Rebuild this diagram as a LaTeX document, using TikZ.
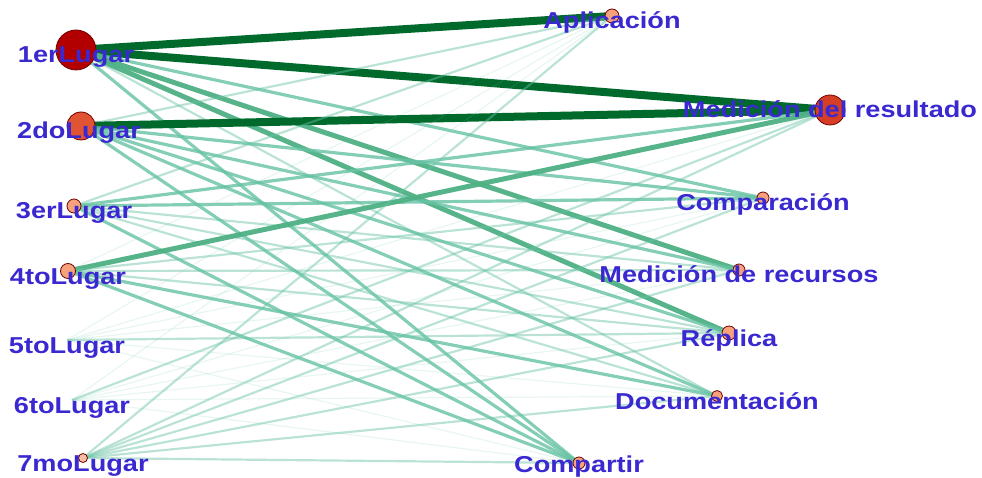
\documentclass[tikz,border=0pt]{standalone}
\usepackage{fontspec}
\setsansfont{Liberation Sans}[FakeStretch=1.18]
\usetikzlibrary{backgrounds}

\definecolor{tagblue}{RGB}{58,40,208}
\definecolor{darkedge}{RGB}{0,106,44}
\definecolor{midedge}{RGB}{78,176,132}
\definecolor{lightedge}{RGB}{102,194,164}
\definecolor{bigred}{RGB}{178,0,0}
\definecolor{midred}{RGB}{224,84,52}
\definecolor{hotred}{RGB}{214,62,38}
\definecolor{salmon}{RGB}{246,162,124}

\begin{document}
\begin{tikzpicture}[x=1pt, y=-1pt,
    place/.style={circle, draw=black!55!red, line width=0.8pt, inner sep=0pt, fill=salmon, minimum size=14pt},
    tag/.style={font=\sffamily\bfseries\fontsize{23}{23}\selectfont, text=tagblue, anchor=base, inner sep=0pt, yshift=-13pt},
    e0/.style={lightedge, line width=1.2pt, opacity=0.15},
    e1/.style={lightedge, line width=2.2pt, opacity=0.45},
    e2/.style={lightedge, line width=3.2pt, opacity=0.8},
    e3/.style={midedge, line width=5pt, opacity=0.95},
    e4/.style={darkedge, line width=8pt}]
    \useasboundingbox (0,0) rectangle (982,478);

    % Left column: places
    \node[place, fill=bigred, minimum size=40pt] (l1) at (76,50) {};
    \node[place, fill=midred, minimum size=28pt] (l2) at (81,126) {};
    \node[place] (l3) at (74,206) {};
    \node[place, minimum size=15pt] (l4) at (68,271) {};
    \coordinate (l5) at (67,340);
    \coordinate (l6) at (72,400);
    \node[place, fill=salmon!70, minimum size=9pt] (l7) at (83,458) {};

    % Right column: activities
    \node[place] (r1) at (612,16) {};
    \node[place, fill=hotred, minimum size=30pt] (r2) at (830,110) {};
    \node[place, minimum size=12pt] (r3) at (763,198) {};
    \node[place, minimum size=12pt] (r4) at (739,270) {};
    \node[place] (r5) at (729,333) {};
    \node[place, minimum size=11pt] (r6) at (717,396) {};
    \node[place, minimum size=12pt] (r7) at (579,463) {};

    % Links (left/right/weight)
    \begin{scope}[on background layer]
        \foreach \a/\b/\w in {
            1/1/4, 1/2/4, 1/3/2, 1/4/3, 1/5/3, 1/6/1, 1/7/2,
            2/1/1, 2/2/4, 2/3/2, 2/4/2, 2/5/2, 2/6/2, 2/7/2,
            3/1/1, 3/2/2, 3/3/2, 3/4/1, 3/5/1, 3/6/1, 3/7/2,
            4/1/0, 4/2/3, 4/3/1, 4/4/1, 4/5/1, 4/6/2, 4/7/2,
            5/1/0, 5/2/0, 5/3/0, 5/4/0, 5/5/1, 5/6/0, 5/7/0,
            6/1/0, 6/2/1, 6/3/0, 6/4/0, 6/5/0, 6/6/0, 6/7/0,
            7/1/1, 7/2/1, 7/3/1, 7/4/1, 7/5/1, 7/6/1, 7/7/1}
            \draw[e\w] (l\a.center) -- (r\b.center);
    \end{scope}

    % Labels
    \node[tag] (t1) at (l1) {1erLugar};
    \node[tag] (t2) at (79,126) {2doLugar};
    \node[tag] (t3) at (l3) {3erLugar};
    \node[tag] (t4) at (l4) {4toLugar};
    \node[tag] (t5) at (l5) {5toLugar};
    \node[tag] (t6) at (l6) {6toLugar};
    \node[tag] (t7) at (l7) {7moLugar};
    \node[tag] (s1) at (r1) {Aplicación};
    \node[tag, yshift=5pt] (s2) at (r2) {Medición del resultado};
    \node[tag] (s3) at (r3) {Comparación};
    \node[tag] (s4) at (r4) {Medición de recursos};
    \node[tag] (s5) at (r5) {Réplica};
    \node[tag] (s6) at (r6) {Documentación};
    \node[tag, yshift=4pt] (s7) at (r7) {Compartir};
\end{tikzpicture}
\end{document}
